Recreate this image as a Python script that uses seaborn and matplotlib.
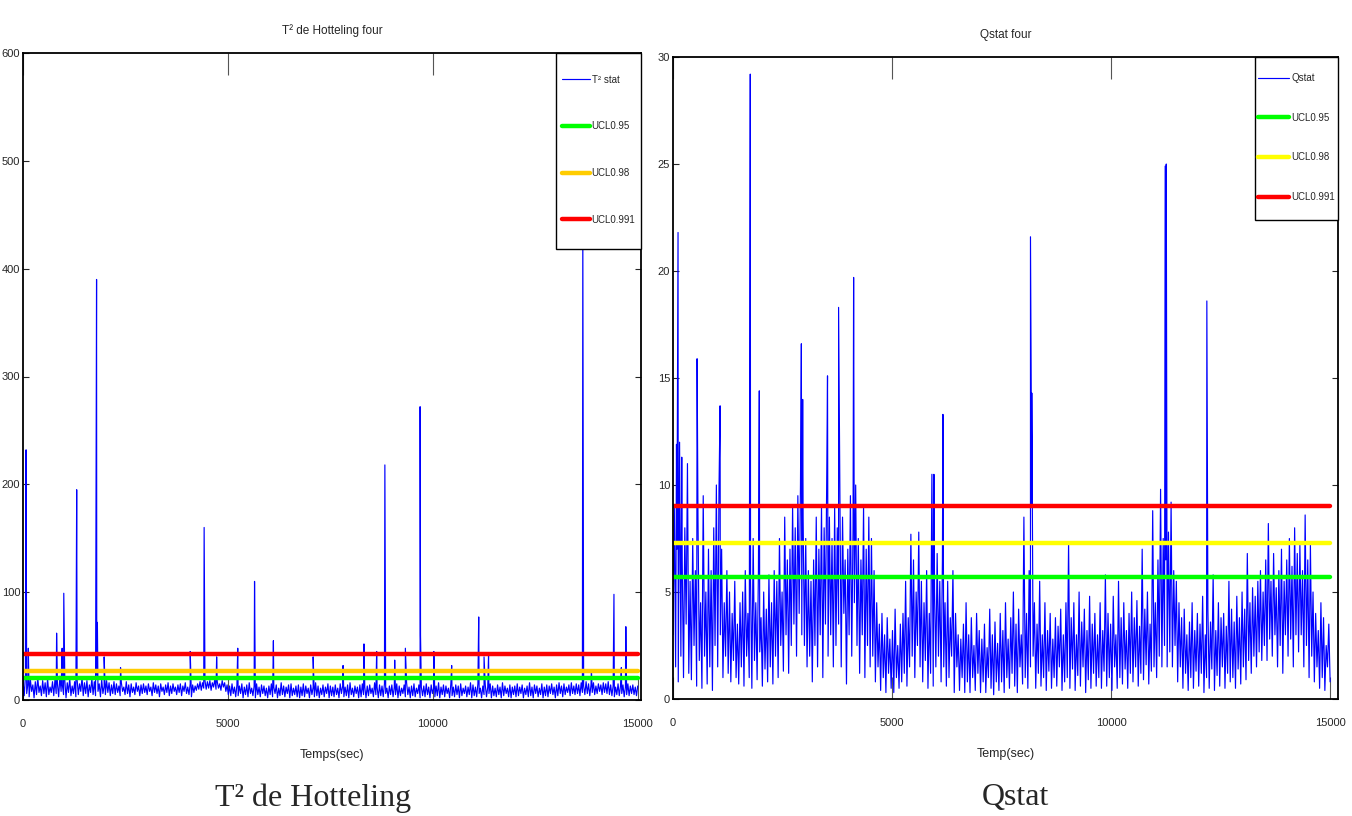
import numpy as np
import pandas as pd
import matplotlib
matplotlib.use("Agg")
import matplotlib.pyplot as plt
from matplotlib import font_manager
from matplotlib.lines import Line2D
from matplotlib.legend_handler import HandlerLine2D
import seaborn as sns

# ---------------- data ----------------
step = 30  # seconds between base samples
t2_base = [
    18, 4, 22, 6, 15, 3, 19, 8, 14, 2, 17, 5, 21, 7, 13, 4, 18, 6, 16, 3, 20, 5, 12, 7, 17,
    4, 19, 6, 15, 3, 22, 8, 14, 5, 18, 2, 16, 7, 20, 4, 13, 6, 17, 3, 19, 5, 15, 8, 21, 4,
    16, 6, 18, 3, 14, 7, 20, 5, 17, 4, 23, 8, 15, 3, 19, 6, 13, 5, 18, 7, 16, 4, 14, 6, 17,
    5, 15, 7, 13, 4, 16, 8, 12, 5, 17, 6, 14, 3, 15, 7, 12, 5, 16, 8, 13, 4, 14, 6, 15, 7,
    13, 5, 15, 8, 12, 4, 16, 7, 14, 6, 13, 3, 15, 8, 12, 5, 14, 7, 16, 4, 13, 6, 15, 8, 12,
    5, 14, 7, 15, 4, 13, 8, 16, 6, 12, 5, 15, 3, 14, 7, 13, 9, 15, 10, 17, 9, 16, 11, 18, 10,
    17, 11, 18, 9, 16, 12, 19, 10, 17, 11, 15, 9, 18, 12, 16, 8, 14, 5, 13, 4, 15, 6, 12, 3, 14,
    4, 13, 6, 15, 2, 12, 5, 14, 3, 16, 6, 11, 4, 13, 2, 15, 5, 12, 3, 14, 6, 13, 4, 11, 2,
    13, 5, 15, 3, 12, 6, 14, 2, 11, 4, 16, 5, 13, 3, 12, 6, 14, 2, 15, 4, 11, 5, 13, 3, 14,
    2, 12, 4, 15, 3, 13, 6, 11, 2, 14, 5, 12, 3, 16, 4, 13, 2, 11, 5, 14, 3, 12, 6, 15, 2,
    13, 4, 12, 3, 14, 5, 11, 2, 15, 6, 13, 3, 12, 4, 14, 2, 16, 5, 11, 3, 13, 6, 12, 2, 14,
    3, 15, 5, 12, 2, 13, 4, 14, 6, 11, 3, 16, 5, 12, 2, 14, 4, 13, 3, 15, 6, 11, 2, 13, 5,
    14, 3, 12, 5, 15, 2, 13, 4, 11, 6, 14, 3, 16, 5, 12, 2, 13, 4, 15, 3, 11, 6, 14, 2, 12,
    4, 13, 3, 15, 5, 12, 2, 14, 6, 11, 3, 13, 4, 16, 2, 12, 5, 14, 3, 13, 6, 11, 2, 15, 4,
    12, 3, 14, 5, 13, 2, 15, 4, 11, 6, 13, 3, 12, 5, 16, 2, 14, 4, 12, 3, 15, 6, 11, 2, 13,
    5, 14, 3, 12, 6, 15, 2, 13, 4, 11, 3, 14, 5, 12, 2, 16, 4, 13, 6, 11, 3, 14, 2, 12, 5,
    13, 3, 15, 4, 12, 6, 14, 2, 11, 5, 13, 3, 16, 4, 12, 2, 14, 6, 13, 3, 11, 5, 15, 2, 12,
    4, 14, 3, 13, 6, 15, 5, 12, 2, 14, 4, 16, 6, 13, 3, 15, 5, 12, 7, 14, 4, 16, 6, 13, 5,
    15, 6, 14, 4, 16, 7, 13, 5, 17, 6, 15, 4, 14, 7, 16, 5, 13, 6, 15, 8, 14, 5, 16, 7, 15,
    6, 17, 5, 14, 4, 13, 3, 12, 5, 15, 4, 13, 6, 14, 3, 12, 5, 15, 4, 13, 6, 14, 5, 12, 4,
    13,
]
t2_spike_t = [60, 75, 130, 820, 955, 995, 1310, 1795, 1815, 1980, 2380, 4080, 4420,
              4725, 5240, 5650, 6110, 7080, 7810, 8320, 8630, 8830, 9070, 9330, 9690,
              9700, 10025, 10460, 11120, 11250, 11360, 13660, 13870, 14420, 14600, 14710]
t2_spike_v = [45, 232, 48, 62, 48, 99, 195, 390, 72, 40, 30, 45, 160,
              40, 48, 110, 55, 40, 32, 52, 45, 218, 37, 48, 272,
              60, 45, 32, 77, 40, 42, 440, 28, 98, 30, 68]
t2_ucl = [20, 27, 43]

q_base = [
    3, 9, 1.5, 7, 0.8, 12, 2, 6.5, 1, 8, 3.5, 11, 1.2, 5.5, 0.9, 7.5, 2.5, 6, 0.6, 8.5, 1.8, 4.5, 0.5, 9.5, 2,
    5, 0.7, 7, 1.5, 6, 0.4, 8, 2.5, 10, 1.5, 9.8, 3, 7, 1, 4.5, 2, 6, 1.2, 5, 0.8, 4, 1.8, 5.5, 1, 3.5,
    0.7, 4.5, 1.5, 5, 0.6, 6, 2, 4, 1, 5.5, 0.5, 7.5, 1.8, 4.5, 0.9, 6, 2.2, 3.8, 0.6, 5, 1.4, 4.2, 0.8, 5.8, 1.5,
    4.5, 0.7, 6, 2, 5.5, 1, 7.5, 2.5, 5, 1.3, 8.5, 3, 6.5, 1.2, 7, 2.5, 9, 3.5, 8, 2, 9.5, 4, 10, 3, 8.5,
    2.5, 7.5, 1.5, 6, 2, 5.5, 0.8, 6.5, 2.5, 8.5, 1.5, 7, 3, 9, 1, 8, 3.5, 10.5, 2, 8.5, 3, 7.5, 1.5, 9, 2.5,
    8, 3.5, 9.5, 1.5, 8.5, 4, 6.5, 0.7, 7, 3, 9.5, 2, 8, 4.5, 10, 2.5, 7.5, 1.2, 6.5, 3, 9, 1, 7, 2.5, 8.5,
    1.5, 7.5, 2, 6, 0.8, 4.5, 1.5, 3.5, 0.4, 4, 1, 3, 0.3, 3.8, 1.2, 2.8, 0.5, 3.2, 0.3, 4.2, 1, 2.5, 0.5, 3.5, 0.8,
    4, 1.2, 5.5, 0.6, 3.8, 1.5, 7.7, 2, 6.5, 1, 5, 2.5, 7.8, 1.5, 5.5, 0.8, 4.5, 1.8, 6, 0.5, 4, 1.2, 10.5, 0.6, 5,
    1.5, 6.8, 2, 5.5, 0.8, 6.5, 1.5, 4.5, 0.6, 5.5, 1, 3.8, 2, 6, 0.3, 4, 1.5, 3, 0.4, 2.8, 1, 3.5, 0.3, 4.5, 0.8,
    3, 0.3, 3.8, 1, 2.5, 0.4, 4, 1.2, 3.2, 0.3, 2.8, 0.8, 3.5, 0.3, 2.4, 1, 4.2, 0.5, 3, 0.2, 3.6, 0.8, 2.6, 0.4, 4,
    0.8, 3.2, 0.3, 4.5, 1, 2.8, 0.5, 3.8, 1.2, 5, 0.6, 3.5, 0.3, 4.2, 1.5, 3, 0.7, 8.5, 1, 4, 0.5, 6, 1.5, 9, 2,
    4.5, 0.5, 3.5, 1.2, 5.5, 0.6, 3, 1, 4.5, 0.4, 3.2, 1.3, 4, 0.5, 2.8, 1, 3.8, 0.6, 3.4, 1.5, 4.2, 0.4, 3, 0.8, 4.5,
    1, 7.3, 0.5, 3.8, 1.4, 4.5, 0.4, 3, 1.1, 5, 0.6, 3.6, 1.5, 4.2, 0.3, 3.2, 0.9, 4.8, 0.5, 3.5, 1.2, 4, 0.6, 3, 1,
    4.5, 0.5, 3.2, 1.3, 5.8, 0.6, 4, 1, 3.5, 0.4, 4.8, 1.5, 3, 0.5, 5.5, 1, 3.8, 0.7, 4.5, 1.4, 3.2, 0.5, 4, 1.2, 5,
    0.8, 3.8, 1.5, 4.6, 0.6, 3.4, 1.2, 7, 0.9, 4.2, 1.6, 5, 0.7, 3.5, 1.3, 8.8, 1.5, 4.5, 1, 6.5, 2, 9.8, 1.5, 7.5, 2.5,
    6.5, 1.5, 7.8, 2.2, 9.2, 1.5, 6, 2.5, 5.5, 0.8, 4.5, 1.5, 3.8, 0.5, 4.2, 1.2, 3, 0.4, 3.6, 1, 4.5, 0.5, 3.2, 1.3, 4,
    0.6, 3.5, 1.2, 4.8, 0.3, 3, 1, 4.2, 0.5, 3.6, 1.4, 5.8, 0.4, 3.2, 1.1, 4.5, 0.6, 3.8, 1.5, 4, 0.5, 3.4, 1.2, 5.5, 0.8,
    4.2, 1, 3.6, 0.5, 4.8, 1.4, 3.8, 0.7, 5, 1.5, 4.2, 0.9, 6.8, 1.8, 4.5, 1.2, 5.2, 2, 4.8, 1.5, 5.5, 2.2, 6, 1.8, 5,
    2.5, 6.5, 1.8, 8.2, 2.8, 5.5, 2, 6.8, 3, 5.2, 1.5, 6, 2.5, 7, 1.2, 5.5, 3, 6.5, 2, 7.5, 2.8, 6.2, 1.5, 8, 3,
    6.8, 2.2, 7.2, 3, 6, 1.5, 8.6, 2.5, 6.5, 1, 7.2, 2, 5, 0.8, 4, 1.5, 3.2, 0.5, 4.5, 1, 3.8, 0.4, 2.5, 1.5, 3.5,
    0.8,
]
q_spike_t = [80, 115, 200, 550, 1075, 1764, 1970, 2930, 2960, 3527, 3780, 4123,
             5956, 6162, 8160, 8190, 11235, 11260, 12186]
q_spike_v = [11.9, 21.8, 11.3, 15.9, 13.7, 29.2, 14.4, 16.6, 14.0, 15.1, 18.3, 19.7,
             10.5, 13.3, 21.6, 14.3, 24.9, 25.0, 18.6]
q_ucl = [5.7, 7.3, 9.0]

ucl_labels = ["UCL0.95", "UCL0.98", "UCL0.991"]
t_end = 15000


def build_series(base, sp_t, sp_v):
    t = [i * step for i in range(len(base))]
    df = pd.DataFrame({"t": t + list(sp_t), "v": list(base) + list(sp_v)})
    return df.sort_values("t", kind="mergesort").reset_index(drop=True)


df_t2 = build_series(t2_base, t2_spike_t, t2_spike_v)
df_q = build_series(q_base, q_spike_t, q_spike_v)


class CenteredLine(HandlerLine2D):
    """Legend line drawn level with the middle of the label text."""

    def create_artists(self, legend, orig_handle, xdescent, ydescent, width,
                       height, fontsize, trans):
        arts = super().create_artists(legend, orig_handle, xdescent, ydescent,
                                      width, height, fontsize, trans)
        for a in arts:
            xd = np.asarray(a.get_xdata(), dtype=float)
            a.set_ydata(np.full_like(xd, 0.36 * fontsize))
        return arts


# ---------------- style ----------------
sns.set_style("white")
names = {f.name for f in font_manager.fontManager.ttflist}
if "Liberation Sans Narrow" in names:
    plt.rcParams["font.family"] = ["Liberation Sans Narrow", "DejaVu Sans"]
else:
    plt.rcParams["font.family"] = ["Liberation Sans", "DejaVu Sans"]
plt.rcParams["axes.linewidth"] = 1.3

fig = plt.figure(figsize=(13.52, 8.16), dpi=100)
ax1 = fig.add_axes([23 / 1352, 1 - 700 / 816, (641 - 23) / 1352, (700 - 53) / 816])
ax2 = fig.add_axes([673 / 1352, 1 - 699 / 816, (1338 - 673) / 1352, (699 - 57) / 816])


def draw(ax, df, ucl, colors, stat_label, ylim, yticks, xmax, title, xlabel,
         hheight, lspacing, bpad, hlen):
    sns.lineplot(data=df, x="t", y="v", ax=ax, color="#0000FF", lw=0.85,
                 estimator=None, sort=False, label=stat_label)
    for val, col, lab in zip(ucl, colors, ucl_labels):
        ldf = pd.DataFrame({"t": [0, t_end], "v": [val, val]})
        sns.lineplot(data=ldf, x="t", y="v", ax=ax, color=col, lw=3.2,
                     estimator=None, label=lab)
    ax.set_xlim(0, xmax)
    ax.set_ylim(*ylim)
    ax.set_xticks([0, 5000, 10000, 15000])
    ax.set_yticks(yticks)
    ax.set_xticklabels(["0", "5000", "10000", "15000"])
    ax.set_yticklabels([str(v) for v in yticks])
    ax.tick_params(axis="x", direction="in", length=16, width=0.8, top=True,
                   bottom=True, labelsize=8, pad=14, color="#555555")
    ax.tick_params(axis="y", direction="in", length=4, width=0.8, left=True,
                   right=True, labelsize=8, pad=2)
    for s in ax.spines.values():
        s.set_color("black")
        s.set_visible(True)
    ax.set_title(title, fontsize=8.5, pad=14)
    ax.set_xlabel(xlabel, fontsize=9, labelpad=14)
    ax.set_ylabel("")
    leg = ax.legend(loc="upper right", bbox_to_anchor=(1.0, 1.0), borderaxespad=0,
                    fontsize=7, frameon=True, fancybox=False, framealpha=1,
                    edgecolor="black", labelspacing=lspacing, handlelength=hlen,
                    handleheight=hheight, handletextpad=0.2, borderpad=bpad,
                    handler_map={Line2D: CenteredLine()})
    leg.get_frame().set_linewidth(1.0)


draw(ax1, df_t2, t2_ucl, ["#00FF00", "#FFCC00", "#FF0000"], "T² stat",
     (0, 600), [0, 100, 200, 300, 400, 500, 600], 15080,
     "T² de Hotteling four", "Temps(sec)", 6.69, 0.2, 0.57, 2.9)
draw(ax2, df_q, q_ucl, ["#00FF00", "#FFFF00", "#FF0000"], "Qstat",
     (0, 30), [0, 5, 10, 15, 20, 25, 30], 15180,
     "Qstat four", "Temp(sec)", 5.6, 0.2, 0.3, 3.2)

fig.text(313 / 1352, 1 - 798 / 816, "T² de Hotteling", ha="center", va="center",
         fontsize=23, family=["Liberation Serif", "DejaVu Serif"])
fig.text(1015 / 1352, 1 - 798 / 816, "Qstat", ha="center", va="center",
         fontsize=23, family=["Liberation Serif", "DejaVu Serif"])

fig.savefig("out.png", dpi=100)
